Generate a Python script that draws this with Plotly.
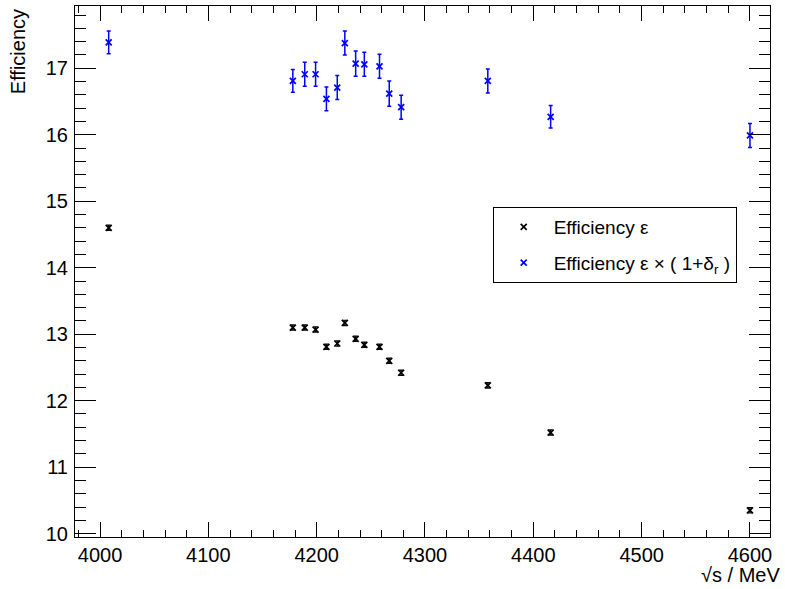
import plotly.graph_objects as go

# ---- data ----
energy = [4008, 4178, 4189, 4199, 4209, 4219, 4226, 4236, 4244, 4258, 4267, 4278, 4358, 4416, 4600]
eff = [14.60, 13.10, 13.10, 13.07, 12.81, 12.86, 13.17, 12.93, 12.84, 12.81, 12.60, 12.42, 12.23, 11.52, 10.35]
eff_err = [0.04, 0.04, 0.04, 0.04, 0.04, 0.04, 0.04, 0.04, 0.04, 0.04, 0.04, 0.04, 0.04, 0.04, 0.04]
eff_isr = [17.39, 16.81, 16.91, 16.91, 16.54, 16.71, 17.38, 17.07, 17.06, 17.03, 16.62, 16.415, 16.81, 16.27, 15.99]
eff_isr_err = [0.17, 0.17, 0.18, 0.18, 0.18, 0.18, 0.18, 0.19, 0.18, 0.18, 0.19, 0.18, 0.18, 0.17, 0.18]

x_ticks = [4000, 4100, 4200, 4300, 4400, 4500, 4600]
y_ticks = [10, 11, 12, 13, 14, 15, 16, 17]

FONT = "Liberation Sans, Arial, Helvetica, sans-serif"
FS = 20

fig = go.Figure()
fig.add_trace(go.Scatter(
    x=energy, y=eff, mode="markers", name="Efficiency ε",
    legendgroup="a",
    marker=dict(symbol="x-thin", size=6, color="black", line=dict(color="black", width=1.7)),
    error_y=dict(type="data", array=eff_err, color="black", thickness=1.2, width=2),
))
fig.add_trace(go.Scatter(
    x=energy, y=eff_isr, mode="markers", name="Efficiency ε × ( 1+δ<sub>r</sub> )",
    legendgroup="b",
    marker=dict(symbol="x-thin", size=6, color="blue", line=dict(color="blue", width=1.7)),
    error_y=dict(type="data", array=eff_isr_err, color="blue", thickness=1.5, width=2),
))

axis_common = dict(
    showgrid=False, zeroline=False, showline=True, linecolor="black", linewidth=1,
    mirror="allticks", ticks="inside", tickcolor="black", tickwidth=1,
    tickfont=dict(family=FONT, size=FS, color="black"),
)

fig.update_xaxes(
    range=[3976.9, 4618.5], tickvals=x_ticks, ticklen=15,
    minor=dict(dtick=20, ticks="inside", ticklen=7, tickcolor="black", tickwidth=1),
    **axis_common,
)
fig.update_yaxes(
    range=[9.949, 17.937], tickvals=y_ticks, ticklen=21,
    minor=dict(dtick=0.2, ticks="inside", ticklen=11, tickcolor="black", tickwidth=1),
    ticklabelstandoff=2,
    **axis_common,
)

fig.update_layout(
    width=785, height=589,
    margin=dict(l=75, r=15, t=6, b=52),
    paper_bgcolor="white", plot_bgcolor="white",
    font=dict(family=FONT, size=FS, color="black"),
    showlegend=True,
    legend=dict(
        x=0.601, y=0.6215, xanchor="left", yanchor="top",
        bordercolor="black", borderwidth=1, bgcolor="white",
        font=dict(family=FONT, size=FS - 1, color="black"),
        traceorder="grouped", tracegroupgap=8, itemwidth=50,
    ),
    annotations=[
        dict(text="Efficiency", xref="paper", yref="paper", x=-0.082, y=0.913,
             xanchor="center", yanchor="middle", textangle=-90, showarrow=False,
             font=dict(family=FONT, size=FS, color="black")),
        dict(text="√s / MeV", xref="paper", yref="paper", x=1.0173, y=-0.072,
             xanchor="right", yanchor="middle", showarrow=False,
             font=dict(family=FONT, size=FS, color="black")),
    ],
)

fig.write_html("out.html")
